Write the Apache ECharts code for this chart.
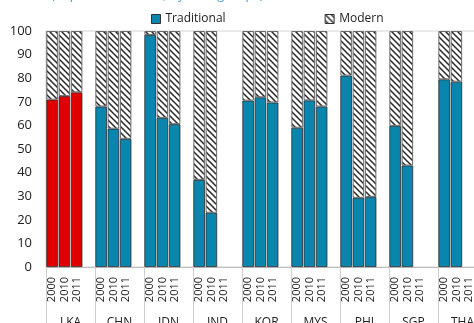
<!DOCTYPE html>
<html>
<head>
<meta charset="utf-8">
<script src="https://cdn.jsdelivr.net/npm/echarts@6/dist/echarts.min.js"></script>
<style>
  html, body { margin: 0; padding: 0; background: #fff; }
  #chart { width: 474px; height: 323px; }
</style>
</head>
<body>
<div id="chart"></div>
<script>
// Country groups and survey years
const groups = ['LKA', 'CHN', 'IDN', 'IND', 'KOR', 'MYS', 'PHI', 'SGP', 'THA'];
const years = ['2000', '2010', '2011'];

// Share of traditional holdings per group and year (null = no observation)
const traditional = [
  [70.9, 72.4, 74.0],
  [68.0, 58.6, 54.3],
  [98.3, 63.2, 60.5],
  [36.9, 23.0, null],
  [70.5, 71.9, 69.7],
  [59.0, 70.6, 68.0],
  [81.1, 29.3, 29.7],
  [59.8, 43.0, null],
  [79.5, 78.5, null]
];

// Share of modern holdings per group and year
const modern = [
  [29.1, 27.6, 26.0],
  [32.0, 41.4, 45.7],
  [1.7, 36.8, 39.5],
  [63.1, 77.0, null],
  [29.5, 28.1, 30.3],
  [41.0, 29.4, 32.0],
  [18.9, 70.7, 70.3],
  [40.2, 57.0, null],
  [20.5, 21.5, null]
];

const yTicks = { min: 0, max: 100, step: 10 };

const highlightGroup = 'LKA';
const blue = '#0a86ae';
const red = '#e00000';

// Diagonal hatch tile for the "Modern" bars
function hatchTile() {
  const s = 6;
  const c = document.createElement('canvas');
  c.width = s; c.height = s;
  const g = c.getContext('2d');
  g.fillStyle = '#ffffff';
  g.fillRect(0, 0, s, s);
  g.strokeStyle = '#2a2a2a';
  g.lineWidth = 1.5;
  g.beginPath();
  g.moveTo(-1, -1); g.lineTo(s + 1, s + 1);
  g.moveTo(-1, s - 1); g.lineTo(1, s + 1);
  g.moveTo(s - 1, -1); g.lineTo(s + 1, 1);
  g.stroke();
  return c;
}
const hatch = { image: hatchTile(), repeat: 'repeat' };

// Each group takes four slots: three years and a spacer
const slots = [];
const tradData = [];
const modData = [];
groups.forEach((grp, gi) => {
  years.forEach((yr, yi) => {
    slots.push(yr);
    const tv = traditional[gi][yi];
    tradData.push(tv == null ? null : {
      value: tv,
      itemStyle: { color: grp === highlightGroup ? red : blue }
    });
    modData.push(modern[gi][yi]);
  });
  slots.push('');
  tradData.push(null);
  modData.push(null);
});

const font = '"Open Sans", "Noto Sans", sans-serif';

const chart = echarts.init(document.getElementById('chart'), null, { renderer: 'canvas' });
chart.setOption({
  animation: false,
  backgroundColor: '#ffffff',
  textStyle: { fontFamily: font },
  title: {
    text: '(In percent of total, by loan groups)',
    left: 46,
    top: -16,
    textStyle: { color: '#3fa7d8', fontSize: 13, fontWeight: 'normal', fontFamily: font }
  },
  legend: {
    left: 146,
    top: 8,
    itemWidth: 9,
    itemHeight: 9,
    itemGap: 99,
    icon: 'rect',
    textStyle: { color: '#222', fontSize: 12, fontFamily: font },
    data: [
      { name: 'Traditional', itemStyle: { color: blue, borderColor: '#333', borderWidth: 1 } },
      { name: 'Modern', itemStyle: { color: hatch, borderColor: '#333', borderWidth: 1 } }
    ]
  },
  grid: {
    left: 46,
    top: 31,
    width: 441,
    height: 236,
    outerBoundsMode: 'none',
    containLabel: false,
    show: true,
    borderColor: '#d4d4d4',
    borderWidth: 1,
    backgroundColor: 'transparent'
  },
  xAxis: [
    {
      type: 'category',
      data: slots,
      position: 'bottom',
      axisLine: { show: true, lineStyle: { color: '#bdbdbd', width: 1 } },
      axisTick: { show: false },
      axisLabel: {
        interval: 0,
        rotate: 90,
        margin: 10,
        fontSize: 11,
        color: '#222',
        fontFamily: font
      },
      splitLine: { show: false }
    },
    {
      type: 'category',
      data: groups,
      position: 'bottom',
      axisLine: { show: false },
      axisTick: {
        show: true,
        inside: false,
        length: 60,
        lineStyle: { color: '#cfcfcf', width: 1 }
      },
      axisLabel: {
        interval: 0,
        margin: 50,
        fontSize: 12,
        color: '#222',
        fontFamily: font
      },
      splitLine: { show: false }
    }
  ],
  yAxis: {
    type: 'value',
    min: yTicks.min,
    max: yTicks.max,
    interval: yTicks.step,
    axisLine: { show: true, lineStyle: { color: '#bdbdbd', width: 1 } },
    axisTick: { show: false },
    splitLine: { show: false },
    axisLabel: { fontSize: 13, color: '#222', margin: 14, fontFamily: font }
  },
  series: [
    {
      name: 'Traditional',
      type: 'bar',
      stack: 'share',
      xAxisIndex: 0,
      data: tradData,
      barCategoryGap: '6%',
      itemStyle: { color: blue, borderColor: '#2b2b2b', borderWidth: 0.8 }
    },
    {
      name: 'Modern',
      type: 'bar',
      stack: 'share',
      xAxisIndex: 0,
      data: modData,
      barCategoryGap: '6%',
      itemStyle: { color: hatch, borderColor: '#6a6a6a', borderWidth: 1 }
    }
  ]
});
</script>
</body>
</html>
